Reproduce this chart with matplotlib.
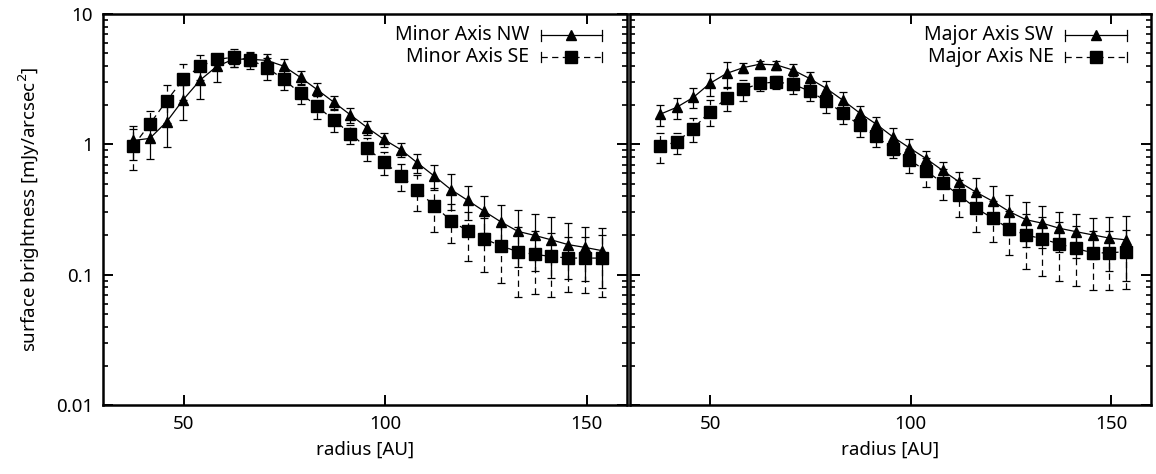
import numpy as np
import matplotlib
matplotlib.use('Agg')
import matplotlib.pyplot as plt
from matplotlib.ticker import FixedLocator, LogLocator, NullFormatter, FuncFormatter

plt.rcParams['font.family'] = ['Noto Sans', 'DejaVu Sans']
plt.rcParams['font.size'] = 13.5

# radius sampling (AU), same for all four cuts
radius = [37.5, 41.6, 45.8, 49.9, 54.1, 58.2, 62.4, 66.5, 70.7, 74.8,
          79.0, 83.1, 87.3, 91.4, 95.6, 99.7, 103.9, 108.0, 112.2, 116.3,
          120.5, 124.6, 128.8, 132.9, 137.1, 141.2, 145.4, 149.5, 153.7]

# minor axis
nw = [1.07, 1.11, 1.49, 2.20, 3.11, 3.96, 4.50, 4.50, 4.40, 3.98,
      3.26, 2.63, 2.10, 1.68, 1.34, 1.09, 0.91, 0.72, 0.57, 0.45,
      0.371, 0.306, 0.253, 0.215, 0.200, 0.185, 0.170, 0.162, 0.153]
nw_err = [0.31, 0.34, 0.54, 0.65, 0.90, 0.93, 0.55, 0.50, 0.49, 0.50,
          0.40, 0.30, 0.23, 0.21, 0.17, 0.13, 0.11, 0.12, 0.12, 0.138,
          0.107, 0.098, 0.090, 0.100, 0.093, 0.091, 0.078, 0.072, 0.074]
se = [0.97, 1.43, 2.16, 3.15, 3.96, 4.48, 4.66, 4.45, 3.88, 3.15,
      2.46, 1.96, 1.53, 1.21, 0.93, 0.73, 0.575, 0.443, 0.337, 0.260,
      0.216, 0.188, 0.166, 0.150, 0.143, 0.138, 0.134, 0.134, 0.134]
se_err = [0.33, 0.36, 0.70, 0.97, 0.86, 0.44, 0.72, 0.66, 0.74, 0.55,
          0.43, 0.39, 0.29, 0.20, 0.18, 0.15, 0.137, 0.135, 0.126, 0.086,
          0.088, 0.083, 0.079, 0.083, 0.072, 0.071, 0.061, 0.062, 0.067]

# major axis
sw = [1.70, 1.92, 2.29, 2.93, 3.50, 3.87, 4.12, 4.07, 3.71, 3.20,
      2.68, 2.18, 1.74, 1.43, 1.14, 0.94, 0.776, 0.63, 0.513, 0.430,
      0.366, 0.305, 0.264, 0.248, 0.227, 0.214, 0.202, 0.191, 0.185]
sw_err = [0.32, 0.35, 0.40, 0.60, 0.75, 0.37, 0.26, 0.32, 0.39, 0.40,
          0.37, 0.34, 0.22, 0.19, 0.19, 0.15, 0.12, 0.10, 0.10, 0.125,
          0.11, 0.105, 0.10, 0.088, 0.078, 0.079, 0.071, 0.085, 0.096]
ne = [0.97, 1.04, 1.32, 1.78, 2.25, 2.64, 2.93, 3.01, 2.89, 2.56,
      2.14, 1.74, 1.40, 1.15, 0.92, 0.76, 0.624, 0.507, 0.405, 0.324,
      0.271, 0.225, 0.202, 0.188, 0.172, 0.159, 0.147, 0.147, 0.150]
ne_err = [0.25, 0.19, 0.28, 0.40, 0.46, 0.48, 0.36, 0.33, 0.44, 0.42,
          0.40, 0.30, 0.26, 0.20, 0.13, 0.155, 0.155, 0.136, 0.126, 0.11,
          0.094, 0.083, 0.091, 0.091, 0.083, 0.077, 0.071, 0.071, 0.072]

panels = [
    (('Minor Axis NW', nw, nw_err), ('Minor Axis SE', se, se_err)),
    (('Major Axis SW', sw, sw_err), ('Major Axis NE', ne, ne_err)),
]

DASH = (0, (5, 3.5))
LW = 0.9
MS_TRI = 7.5
MS_SQ = 8.8
FS = 13.5

fig = plt.figure(figsize=(11.56, 4.74), dpi=100)
ax1 = fig.add_axes([0.0891, 0.1456, 0.4533, 0.8249])
ax2 = fig.add_axes([0.5450, 0.1456, 0.4507, 0.8249])


def draw_legend(ax, row, label, marker, ms, dashed):
    y = 0.945 - row * 0.055
    x0, x1 = 0.835, 0.953
    ls = DASH if dashed else '-'
    ax.plot([x0, x1], [y, y], transform=ax.transAxes, color='k', lw=LW, ls=ls)
    for xx in (x0, x1):
        ax.plot([xx, xx], [y - 0.013, y + 0.013], transform=ax.transAxes,
                color='k', lw=LW)
    ax.plot([(x0 + x1) / 2], [y], transform=ax.transAxes, color='k',
            marker=marker, ms=ms * 0.9, ls='none')
    ax.text(x0 - 0.022, y, label, transform=ax.transAxes, ha='right',
            va='center', fontsize=FS + 0.5)


for ax, (s1, s2) in zip([ax1, ax2], panels):
    lab, val, err = s1
    ax.errorbar(radius, val, yerr=err, color='k', lw=LW, elinewidth=LW,
                capsize=3.2, capthick=LW, marker='^', ms=MS_TRI)
    lab2, val2, err2 = s2
    c = ax.errorbar(radius, val2, yerr=err2, color='k', lw=LW, elinewidth=LW,
                    capsize=3.2, capthick=LW, marker='s', ms=MS_SQ, ls=DASH)
    c[2][0].set_linestyle(DASH)
    draw_legend(ax, 0, lab, '^', MS_TRI, False)
    draw_legend(ax, 1, lab2, 's', MS_SQ, True)

    ax.set_yscale('log')
    ax.set_xlim(30, 160)
    ax.set_ylim(0.01, 10)
    ax.xaxis.set_major_locator(FixedLocator([50, 100, 150]))
    ax.yaxis.set_major_locator(LogLocator(base=10, numticks=10))
    ax.yaxis.set_minor_locator(LogLocator(base=10, subs=np.arange(2, 10), numticks=10))
    ax.yaxis.set_minor_formatter(NullFormatter())
    ax.tick_params(which='both', direction='in', top=True, right=True,
                   labelsize=FS, pad=7)
    ax.tick_params(which='major', length=7, width=1.4)
    ax.tick_params(which='minor', length=3.5, width=1.2)
    for sp in ax.spines.values():
        sp.set_linewidth(1.8)
    ax.set_xlabel('radius [AU]', fontsize=FS, labelpad=6)

ax1.yaxis.set_major_formatter(FuncFormatter(lambda v, p: f'{v:g}'))
ax2.yaxis.set_major_formatter(NullFormatter())
ax1.set_ylabel('surface brightness [mJy/arcsec$^2$]', fontsize=FS, labelpad=10)

fig.savefig('out.png', dpi=100)
